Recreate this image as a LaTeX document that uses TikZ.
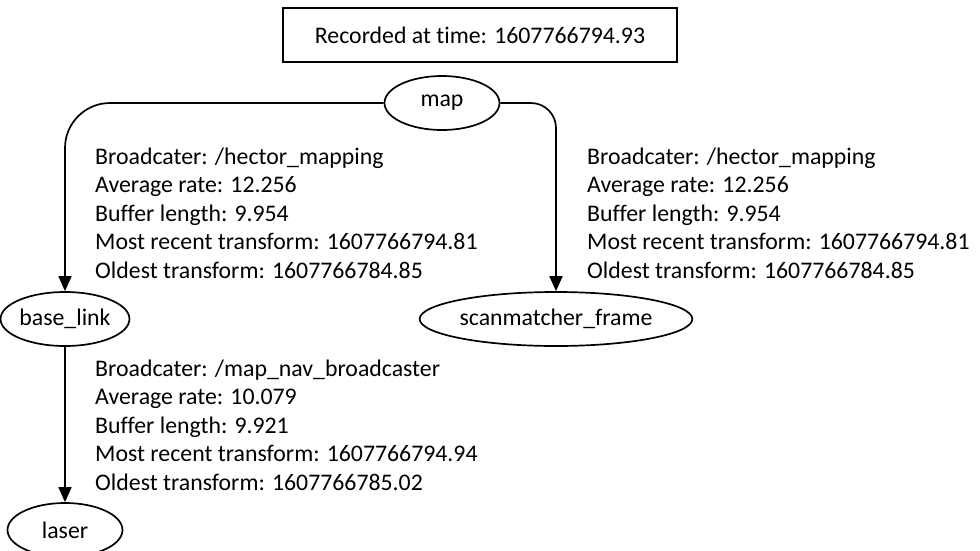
\documentclass[tikz,border=0pt]{standalone}
\usepackage{fontspec}
\setmainfont{Carlito}[Ligatures=CommonOff]
\usetikzlibrary{shapes.geometric,arrows.meta}
\begin{document}
\begin{tikzpicture}[x=1pt,y=-1pt,
  every node/.style={font=\fontsize{23.8}{28.5}\selectfont, inner sep=0pt},
  frame/.style={ellipse, draw, line width=1.7pt, minimum height=54pt},
  edge/.style={line width=1.7pt, -{Triangle[length=15pt,width=13pt]}},
  info/.style={anchor=base west, align=left}]
\useasboundingbox (0,0) rectangle (980,550);
\clip (0,0) rectangle (980,550);
\fill[white] (0,0) rectangle (980,550);
\node[draw, line width=1.7pt, minimum width=394pt, minimum height=54pt] (title) at (480,35) {Recorded at time: 1607766794.93};
\node[frame, minimum width=115pt] (map) at (442,103) {map};
\node[frame, minimum width=115pt] (base) at (65,319) {base\_link};
\node[frame, minimum width=266pt] (scan) at (556,319) {scanmatcher\_frame};
\node[frame, minimum width=115pt] (laser) at (65,530) {laser};
\draw[edge, rounded corners=45pt] (map.west) -| (base.north);
\draw[edge, rounded corners=25pt] (map.east) -| (scan.north);
\draw[edge] (base.south) -- (laser.north);
\node[info] (l1) at (95,278) {Broadcater: /hector\_mapping\\Average rate: 12.256\\Buffer length: 9.954\\Most recent transform: 1607766794.81\\Oldest transform: 1607766784.85};
\node[info] (l2) at (587,278) {Broadcater: /hector\_mapping\\Average rate: 12.256\\Buffer length: 9.954\\Most recent transform: 1607766794.81\\Oldest transform: 1607766784.85};
\node[info] (l3) at (95,490) {Broadcater: /map\_nav\_broadcaster\\Average rate: 10.079\\Buffer length: 9.921\\Most recent transform: 1607766794.94\\Oldest transform: 1607766785.02};
\end{tikzpicture}
\end{document}
